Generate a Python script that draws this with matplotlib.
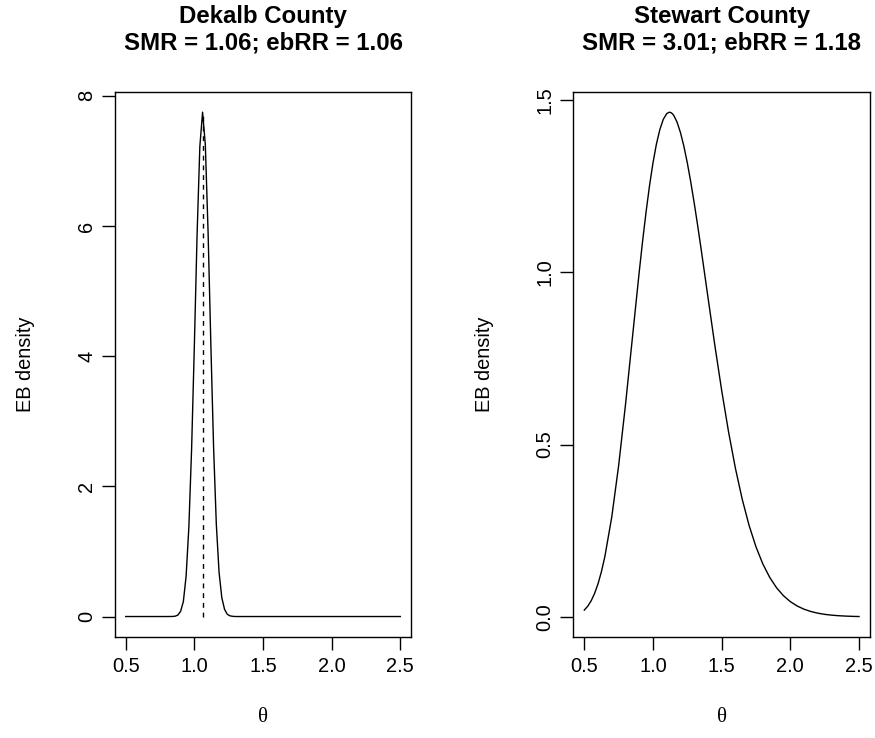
import matplotlib
matplotlib.use("Agg")
import matplotlib.pyplot as plt

plt.rcParams['font.family'] = ['Liberation Sans', 'DejaVu Sans']

# Dekalb County: EB posterior density
dekalb_theta = [0.50, 0.60, 0.70, 0.80, 0.84, 0.86, 0.88, 0.90, 0.92, 0.94,
                0.96, 0.98, 1.00, 1.02, 1.04, 1.06, 1.08, 1.10, 1.12, 1.14,
                1.16, 1.18, 1.20, 1.22, 1.24, 1.26, 1.28, 1.30, 1.40, 1.50,
                2.00, 2.50]
dekalb_dens = [0.0, 0.0, 0.0, 0.0, 0.001, 0.005, 0.022, 0.08, 0.23, 0.62,
               1.37, 2.57, 4.16, 5.87, 7.22, 7.75, 7.25, 5.91, 4.20, 2.61,
               1.42, 0.68, 0.29, 0.11, 0.035, 0.010, 0.003, 0.0, 0.0, 0.0,
               0.0, 0.0]

# Stewart County
stewart_theta = [0.50, 0.525, 0.55, 0.575, 0.60, 0.625, 0.65, 0.70, 0.75, 0.80,
                 0.85, 0.90, 0.925, 0.95, 0.975, 1.00, 1.025, 1.05, 1.075, 1.10,
                 1.12, 1.135, 1.15, 1.175, 1.20, 1.225, 1.25, 1.275, 1.30, 1.325,
                 1.35, 1.375, 1.40, 1.45, 1.50, 1.55, 1.60, 1.65, 1.70, 1.75,
                 1.80, 1.85, 1.90, 1.95, 2.00, 2.05, 2.10, 2.15, 2.20, 2.25,
                 2.30, 2.35, 2.40, 2.45, 2.50]
stewart_dens = [0.0197, 0.0309, 0.0466, 0.0680, 0.0960, 0.1316, 0.1755, 0.2899, 0.4389, 0.6161,
                0.8091, 1.0016, 1.0922, 1.1762, 1.2519, 1.3177, 1.3722, 1.4145, 1.4441, 1.4608,
                1.4650, 1.4629, 1.4565, 1.4366, 1.4061, 1.3661, 1.3178, 1.2627, 1.2019, 1.1369,
                1.0690, 0.9991, 0.9287, 0.7894, 0.6577, 0.5376, 0.4317, 0.3410, 0.2651, 0.2032,
                0.1535, 0.1145, 0.0843, 0.0614, 0.0442, 0.0315, 0.0222, 0.0155, 0.0107, 0.0073,
                0.0050, 0.0034, 0.0023, 0.0015, 0.0010]

titles = ["Dekalb County\nSMR = 1.06; ebRR = 1.06",
          "Stewart County\nSMR = 3.01; ebRR = 1.18"]
ebrr_dekalb = 1.06
xticks = [0.5, 1.0, 1.5, 2.0, 2.5]
yticks_dekalb = [0, 2, 4, 6, 8]
yticks_stewart = [0.0, 0.5, 1.0, 1.5]

W, H = 875, 738
fig = plt.figure(figsize=(W / 100, H / 100), dpi=100)

ax1 = fig.add_axes([114.7 / W, 1 - 636.7 / H, 296.6 / W, 544.7 / H])
ax2 = fig.add_axes([573.3 / W, 1 - 636.7 / H, 296.7 / W, 544.7 / H])

ax1.plot(dekalb_theta, dekalb_dens, color='black', lw=1.0)
ax1.plot([ebrr_dekalb, ebrr_dekalb], [0, max(dekalb_dens)], color='black',
         lw=1.0, linestyle=(0, (3.5, 3.5)))
ax2.plot(stewart_theta, stewart_dens, color='black', lw=1.0)

for ax, yt, yfmt, title in [(ax1, yticks_dekalb, '{:g}', titles[0]),
                            (ax2, yticks_stewart, '{:.1f}', titles[1])]:
    ax.margins(x=0.04, y=0.04)
    ax.set_xticks(xticks)
    ax.set_xticklabels(['{:.1f}'.format(t) for t in xticks])
    ax.set_yticks(yt)
    ax.set_yticklabels([yfmt.format(t) for t in yt], rotation=90, va='center')
    ax.tick_params(direction='out', length=9.4, width=1.0, labelsize=14.4,
                   color='black')
    ax.tick_params(axis='x', pad=5)
    ax.tick_params(axis='y', pad=4)
    for s in ax.spines.values():
        s.set_linewidth(1.0)
    ax.set_ylabel('EB density', fontsize=14.4)
    ax.yaxis.set_label_coords(-0.30, 0.5)
    ax.set_xlabel('θ', fontsize=15, family=['Liberation Serif', 'DejaVu Serif'])
    ax.xaxis.set_label_coords(0.5, -0.149)
    ax.xaxis.label.set_va('center')
    ax.yaxis.label.set_va('center')
    pos = ax.get_position()
    for i, ln in enumerate(title.split('\n')):
        ypix = 16 + 27 * i
        fig.text((pos.x0 + pos.x1) / 2, 1 - ypix / H, ln, ha='center',
                 va='center', fontsize=17.3, fontweight='bold')

fig.savefig('out.png', dpi=100)
